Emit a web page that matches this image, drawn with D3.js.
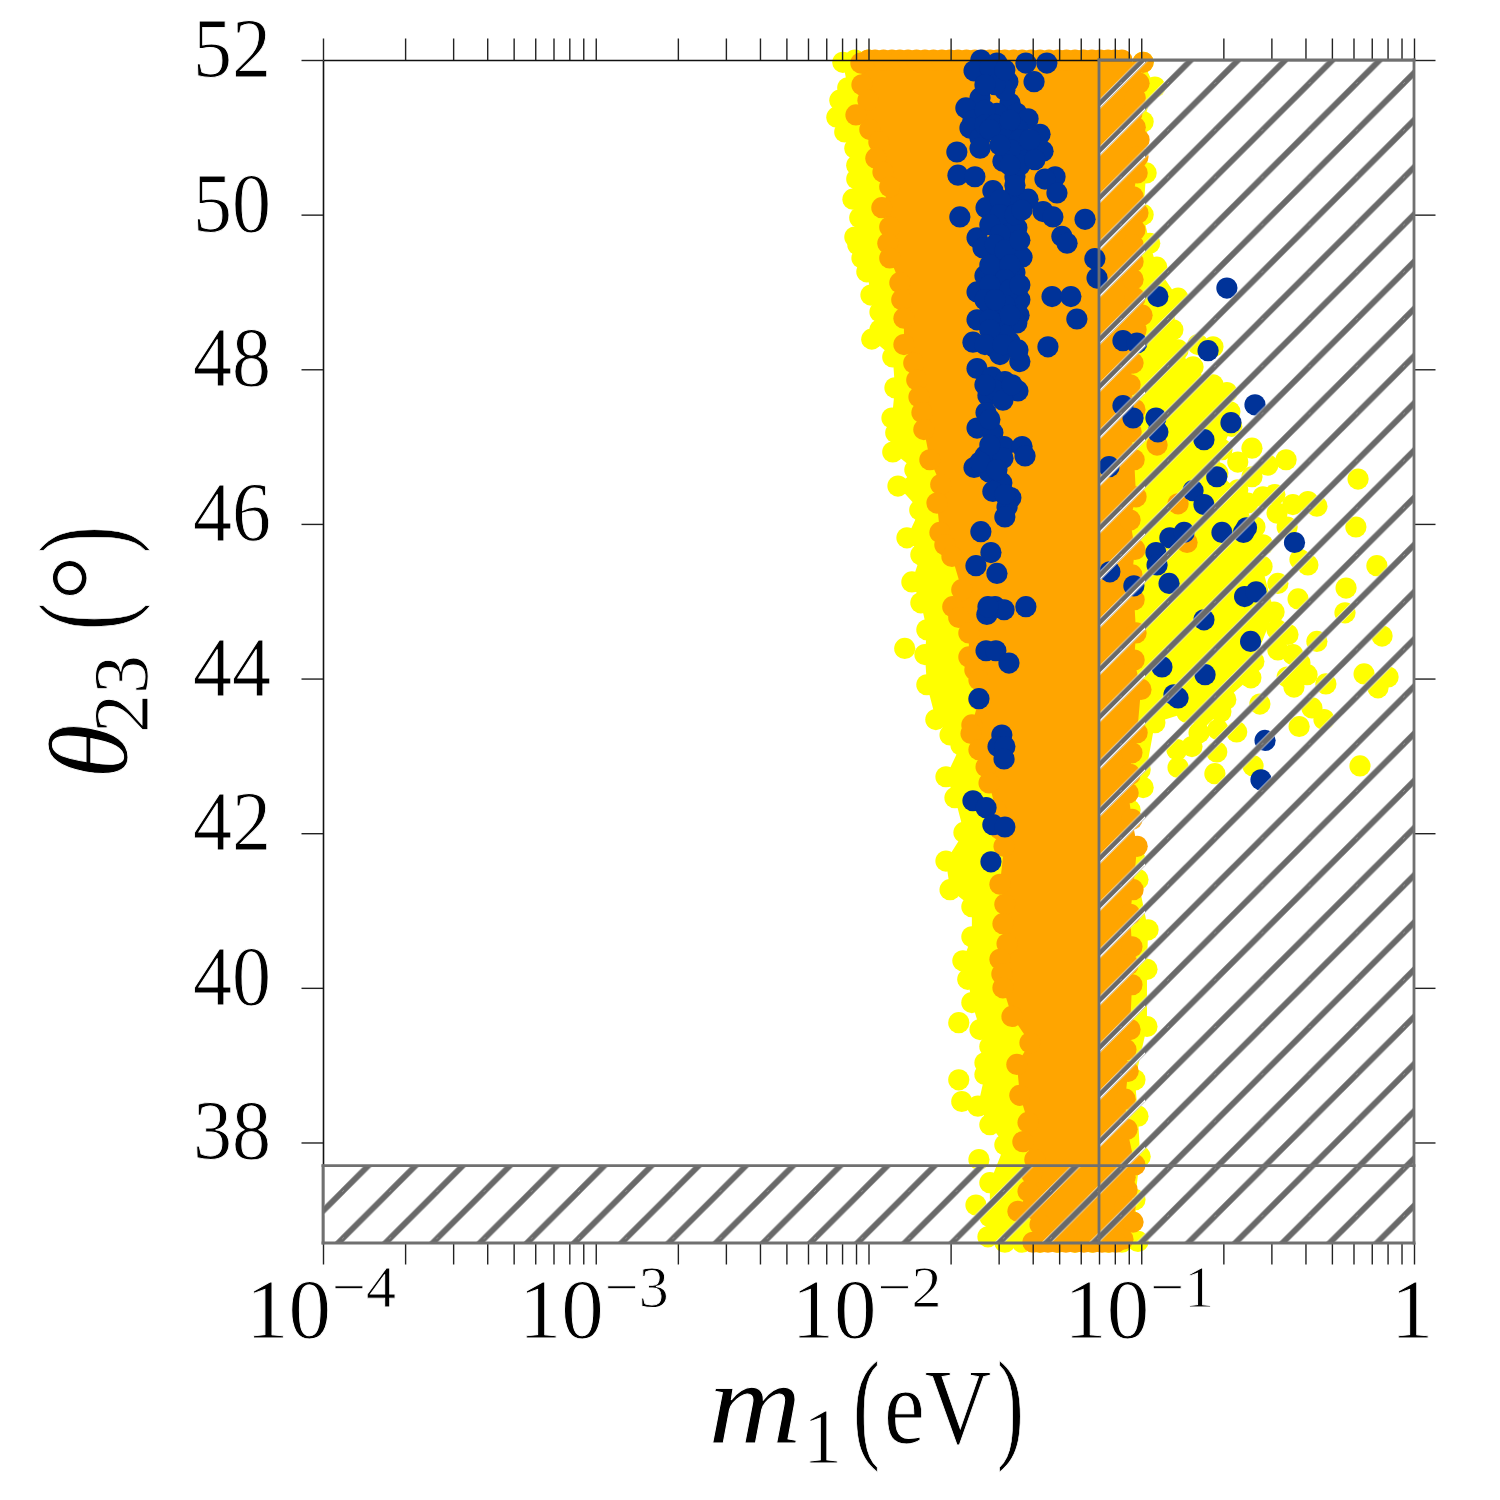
<!DOCTYPE html>
<html>
<head>
<meta charset="utf-8">
<script src="https://cdnjs.cloudflare.com/ajax/libs/d3/7.8.5/d3.min.js"></script>
<style>
  html, body { margin: 0; background: #fff; }
  text { font-family: "Liberation Serif", serif; fill: #000; stroke: #fff; stroke-width: 0.9; }
  .tick line { stroke: #222; stroke-width: 1.4; }
  .domain { stroke: #111; stroke-width: 1.6; }
</style>
</head>
<body>
<div id="chart"></div>
<script>
// all points are [log10(m1 / eV), theta23 in degrees]
const yellowLeft = [[-2.094,51.97],[-2.076,51.64],[-2.105,51.48],[-2.116,51.26],[-2.087,51.07],[-2.050,50.86],[-2.043,50.64],[-2.043,50.46],[-2.057,50.20],[-2.032,49.96],[-2.050,49.71],[-2.039,49.61],[-2.024,49.44],[-2.006,49.26],[-1.991,48.96],[-1.958,48.74],[-1.958,48.51],[-1.988,48.39],[-1.911,48.16],[-1.903,47.76],[-1.914,47.37],[-1.900,47.18],[-1.911,46.93],[-1.830,46.70],[-1.892,46.49],[-1.812,46.18],[-1.859,45.82],[-1.808,45.60],[-1.841,45.25],[-1.808,44.98],[-1.786,44.63],[-1.793,44.31],[-1.786,43.92],[-1.753,43.47],[-1.701,43.27],[-1.661,43.14],[-1.716,42.73],[-1.683,42.46],[-1.650,42.01],[-1.716,41.64],[-1.701,41.27],[-1.621,41.05],[-1.621,40.66],[-1.654,40.35],[-1.636,40.11],[-1.621,39.81],[-1.591,39.46],[-1.555,39.24],[-1.573,39.03],[-1.573,38.88],[-1.599,38.47],[-1.555,38.23],[-1.500,37.97],[-1.555,37.48],[-1.555,37.04],[-1.562,36.78]]
const yellowRight = [[-0.993,51.97],[-0.950,51.65],[-0.993,51.20],[-0.982,50.54],[-0.993,50.00],[-0.969,49.63],[-0.943,49.32],[-0.865,48.92],[-0.884,48.51],[-0.865,48.25],[-0.810,48.03],[-0.737,47.80],[-0.686,47.70],[-0.675,47.45],[-0.668,47.26],[-0.704,46.96],[-0.719,46.66],[-0.646,46.44],[-0.583,45.96],[-0.554,45.73],[-0.557,45.45],[-0.513,44.86],[-0.587,44.22],[-0.598,44.01],[-0.690,43.73],[-0.708,43.57],[-0.788,43.30],[-0.832,43.56],[-0.950,43.43],[-0.993,42.59],[-1.041,42.30],[-1.023,41.66],[-1.012,41.40],[-0.975,40.75],[-0.979,40.24],[-0.979,39.50],[-1.023,38.81],[-1.012,38.34],[-1.004,37.82],[-1.023,37.26],[-1.012,36.72]]
const yellowRim = [[-1.500,36.71],[-1.437,36.71],[-1.371,36.71],[-1.305,36.71],[-1.243,36.71],[-1.181,36.71],[-1.122,36.71],[-1.071,36.71],[-2.050,52],[-2.000,52]]
const yellowScatter = [[-1.867,44.39],[-1.669,39.55],[-1.669,38.81],[-1.658,38.53],[-1.595,37.78],[-1.606,37.19],[-0.205,46.58],[-0.213,45.96],[-0.136,45.46],[-0.249,45.17],[-0.253,44.85],[-0.117,44.55],[-0.356,44.48],[-0.183,44.06],[-0.095,44.02],[-0.132,43.88],[-0.323,43.93],[-0.374,43.62],[-0.330,43.47],[-0.421,43.38],[-0.198,42.87],[-0.565,43.67],[-0.590,42.87],[-0.730,42.77],[-0.865,42.85],[-0.469,46.83],[-0.594,46.98],[-0.646,46.80],[-0.536,46.76],[-0.594,46.61],[-0.356,46.23],[-0.389,46.29],[-0.444,46.25],[-0.510,46.38],[-0.554,46.35],[-0.609,46.27],[-0.502,46.14],[-0.465,45.96],[-0.389,45.47],[-0.418,45.54],[-0.499,45.23],[-0.425,45.03],[-0.502,44.63],[-0.462,44.57],[-0.499,44.37],[-0.444,44.31],[-0.418,44.20],[-0.392,44.05],[-0.465,44.02],[-0.440,43.89],[-0.646,44.24],[-0.693,44.28],[-0.650,43.31],[-0.723,43.05],[-0.719,43.34],[-0.814,43.12],[-0.869,43.08],[-1.004,42.82],[-0.792,48.32],[-0.737,48.29]]

const orangeLeft = [[-2.028,51.96],[-2.024,51.68],[-2.002,51.48],[-2.046,51.29],[-1.995,51.10],[-1.962,50.94],[-1.973,50.73],[-1.947,50.55],[-1.922,50.36],[-1.951,50.09],[-1.922,49.84],[-1.929,49.63],[-1.922,49.44],[-1.885,49.12],[-1.878,48.90],[-1.870,48.66],[-1.870,48.32],[-1.834,48.08],[-1.823,47.86],[-1.815,47.64],[-1.804,47.44],[-1.797,47.22],[-1.775,46.83],[-1.735,46.51],[-1.749,46.27],[-1.738,45.89],[-1.720,45.73],[-1.694,45.58],[-1.658,45.15],[-1.691,44.93],[-1.669,44.79],[-1.632,44.59],[-1.632,44.28],[-1.610,44.11],[-1.595,43.98],[-1.595,43.73],[-1.621,43.40],[-1.624,43.29],[-1.595,43.08],[-1.569,42.86],[-1.558,42.65],[-1.533,42.30],[-1.518,42.05],[-1.503,41.83],[-1.518,41.34],[-1.500,41.08],[-1.507,40.83],[-1.492,40.57],[-1.518,40.37],[-1.511,40.18],[-1.507,40.00],[-1.474,39.63],[-1.408,39.29],[-1.456,39.01],[-1.445,38.61],[-1.415,38.26],[-1.434,38.01],[-1.390,37.78],[-1.401,37.59],[-1.415,37.37],[-1.452,37.11],[-1.371,36.94],[-1.397,36.71]]
const orangeRight = [[-0.993,51.97],[-1.008,51.70],[-1.022,51.51],[-1.034,51.31],[-1.022,51.13],[-1.008,50.97],[-1.012,50.75],[-1.015,50.54],[-1.030,50.23],[-1.012,50.02],[-1.023,49.80],[-1.030,49.61],[-1.030,49.39],[-1.030,49.16],[-1.023,48.92],[-0.997,48.70],[-1.019,48.51],[-1.030,48.08],[-1.041,47.80],[-1.023,47.48],[-1.037,47.19],[-1.026,46.83],[-1.019,46.35],[-1.041,46.05],[-1.023,45.67],[-1.034,45.34],[-1.026,45.02],[-1.019,44.59],[-1.026,44.24],[-1.001,43.86],[-1.015,43.30],[-1.034,43.04],[-1.041,42.76],[-1.048,42.52],[-1.034,42.18],[-1.015,41.83],[-1.030,41.27],[-1.041,40.95],[-1.034,40.53],[-1.048,40.30],[-1.034,40.04],[-1.041,39.46],[-1.056,39.20],[-1.048,38.92],[-1.059,38.56],[-1.052,38.17],[-1.023,37.71],[-1.059,37.55],[-1.052,37.39],[-1.059,37.17],[-1.030,36.97],[-1.067,36.75]]
const orangeRim = [[-2.000,52],[-1.976,52],[-1.945,52],[-1.914,52],[-1.885,52],[-1.855,52],[-1.824,52],[-1.793,52],[-1.762,52],[-1.731,52],[-1.702,52],[-1.672,52],[-1.641,52],[-1.610,52],[-1.582,52],[-1.555,52],[-1.527,52],[-1.500,52],[-1.468,52],[-1.437,52],[-1.404,52],[-1.371,52],[-1.338,52],[-1.305,52],[-1.274,52],[-1.243,52],[-1.212,52],[-1.181,52],[-1.151,52],[-1.122,52],[-1.096,52],[-1.071,52],[-1.371,36.71],[-1.342,36.71],[-1.309,36.71],[-1.276,36.71],[-1.243,36.71],[-1.210,36.71],[-1.177,36.71],[-1.144,36.71],[-1.118,36.71],[-1.093,36.71]]
const orangeScatter = [[-0.942,47.02],[-0.865,46.26],[-0.832,45.76]]

const bluePoints = [[-1.588,52.00],[-1.423,51.96],[-1.346,51.96],[-1.393,51.72],[-1.613,51.86],[-1.529,51.96],[-1.518,51.83],[-1.489,51.72],[-1.591,51.51],[-1.481,51.44],[-1.643,51.38],[-1.617,51.22],[-1.628,51.12],[-1.529,51.31],[-1.456,51.31],[-1.415,51.24],[-1.452,51.10],[-1.371,51.04],[-1.591,50.99],[-1.518,51.10],[-1.591,50.86],[-1.676,50.81],[-1.360,50.82],[-1.507,50.69],[-1.408,50.73],[-1.456,50.84],[-1.672,50.51],[-1.610,50.49],[-1.316,50.49],[-1.353,50.46],[-1.463,50.49],[-1.309,50.28],[-1.544,50.31],[-1.463,50.28],[-1.415,50.20],[-1.569,50.09],[-1.470,50.10],[-1.360,50.04],[-1.324,49.97],[-1.665,49.97],[-1.206,49.94],[-1.507,49.93],[-1.456,49.83],[-1.291,49.72],[-1.272,49.63],[-1.602,49.70],[-1.481,49.63],[-1.580,49.57],[-1.437,49.45],[-1.518,49.51],[-1.170,49.43],[-1.162,49.18],[-1.573,49.21],[-1.463,49.25],[-1.518,49.29],[-1.602,49.00],[-1.327,48.94],[-1.258,48.94],[-1.445,48.90],[-1.518,48.99],[-1.555,48.81],[-0.939,48.94],[-1.448,48.70],[-1.602,48.64],[-1.236,48.65],[-1.529,48.73],[-1.507,48.54],[-1.456,48.60],[-1.617,48.35],[-1.342,48.29],[-1.536,48.28],[-1.481,48.35],[-1.555,48.38],[-1.445,48.10],[-1.067,48.37],[-1.016,48.34],[-1.602,48.01],[-1.547,47.90],[-1.500,47.84],[-1.562,47.66],[-1.452,47.72],[-1.518,47.71],[-1.067,47.53],[-1.030,47.37],[-0.946,47.37],[-1.569,47.44],[-1.602,47.24],[-1.544,47.18],[-1.503,47.00],[-1.437,47.00],[-1.426,46.88],[-1.573,46.88],[-1.507,46.85],[-1.613,46.73],[-1.558,46.67],[-1.511,46.53],[-1.544,46.42],[-1.478,46.34],[-1.492,46.22],[-1.500,46.09],[-1.588,45.90],[-1.551,45.63],[-1.606,45.46],[-1.529,45.36],[-1.536,44.93],[-1.503,44.89],[-1.566,44.83],[-1.562,44.93],[-1.423,44.93],[-1.569,44.36],[-1.533,44.36],[-1.485,44.20],[-1.595,43.74],[-1.511,43.27],[-1.525,43.12],[-1.500,43.12],[-1.503,42.96],[-1.617,42.42],[-1.569,42.33],[-1.544,42.11],[-1.500,42.08],[-1.551,41.63],[-0.686,49.05],[-0.755,48.24],[-1.118,46.74],[-0.939,47.19],[-0.770,47.09],[-0.671,47.31],[-0.583,47.54],[-0.723,46.61],[-0.810,46.43],[-0.770,46.25],[-0.895,45.82],[-0.843,45.89],[-0.946,45.63],[-0.942,45.47],[-0.704,45.89],[-0.614,45.95],[-0.625,45.89],[-0.438,45.76],[-1.115,45.38],[-1.027,45.20],[-0.898,45.23],[-0.621,45.06],[-0.579,45.12],[-0.770,44.76],[-0.599,44.48],[-0.924,44.15],[-0.766,44.05],[-0.880,43.79],[-0.865,43.75],[-0.546,43.20],[-0.561,42.69],
  [-1.555,51.90],[-1.500,51.61],[-1.536,51.68],[-1.573,51.68],[-1.500,51.87],[-1.573,51.35],[-1.573,51.16],[-1.536,51.16],[-1.481,51.22],[-1.500,50.97],[-1.555,51.10],[-1.445,50.97],[-1.481,50.84],[-1.408,50.97],[-1.518,50.90],[-1.445,50.64],[-1.481,50.64],[-1.390,50.71],[-1.463,50.38],[-1.518,50.19],[-1.518,50.00],[-1.555,49.87],[-1.518,49.74],[-1.536,49.61],[-1.463,50.00],[-1.437,50.06],[-1.500,49.54],[-1.445,49.67],[-1.555,49.35],[-1.481,49.35],[-1.500,49.16],[-1.555,49.09],[-1.481,49.03],[-1.500,48.83],[-1.573,48.90],[-1.445,49.09],[-1.481,48.70],[-1.555,48.64],[-1.536,48.90],[-1.500,48.44],[-1.555,48.51],[-1.518,48.19],[-1.573,48.32],[-1.507,48.32],[-1.452,48.25],[-1.536,47.73],[-1.507,47.60],[-1.573,47.80],[-1.474,47.80],[-1.555,47.35],[-1.555,47.02],[-1.591,46.80],[-1.529,46.70],[-1.500,46.38]]

const thetaTicks = [38, 40, 42, 44, 46, 48, 50, 52]
const decades = [-4, -3, -2, -1, 0]
const decadeLabels = ['\u22124', '\u22123', '\u22122', '\u22121', '']
const m1Limit = 0.07      // excluded above this mass
const thetaLimit = 37.7   // excluded below this angle

const width = 1500
const height = 1500
const pointRadius = 10.6
const tile = 47.2

const x = d3.scaleLog().domain([1e-4, 1]).range([323, 1414])
const y = d3.scaleLinear().domain([36.7, 52]).range([1243, 60])
const px = d => x(Math.pow(10, d[0]))
const py = d => y(d[1])

// one tick per mantissa, top and bottom
const m1Ticks = []
decades.forEach(k => {
  const mantissas = k === 0 ? [1] : d3.range(1, 10)
  mantissas.forEach(m => m1Ticks.push(m * Math.pow(10, k)))
})

const svg = d3.select('#chart').append('svg').attr('width', width).attr('height', height)
const defs = svg.append('defs')

function addHatch(id, ox, oy) {
  const p = defs.append('pattern')
    .attr('id', id)
    .attr('patternUnits', 'userSpaceOnUse')
    .attr('x', ox).attr('y', oy)
    .attr('width', tile).attr('height', tile)
  const segs = [[-6, tile + 6, tile + 6, -6], [-6, 6, 6, -6], [tile - 6, tile + 6, tile + 6, tile - 6]]
  const draw = (color, w) => segs.forEach(s => {
    p.append('line').attr('x1', s[0]).attr('y1', s[1]).attr('x2', s[2]).attr('y2', s[3])
      .attr('stroke', color).attr('stroke-width', w)
  })
  draw('#fff', 7)
  draw('#696969', 5.8)
  // seam of the tile shows as a small pale notch
  ;[[0, tile], [tile, 0]].forEach(c => {
    p.append('line')
      .attr('x1', c[0] - 4).attr('y1', c[1] - 4).attr('x2', c[0] + 4).attr('y2', c[1] + 4)
      .attr('stroke', '#ddd').attr('stroke-width', 1.2)
  })
}
addHatch('hatchRight', x(m1Limit) + 69, 83)
addHatch('hatchBottom', 343, 1191)

function blob(left, right, rim, scatter, color) {
  const g = svg.append('g')
  const line = d3.line().x(px).y(py)
  g.append('path')
    .attr('d', line(left.concat(right.slice().reverse())) + 'Z')
    .attr('fill', color)
  g.selectAll('circle')
    .data(left.concat(right, rim, scatter))
    .join('circle')
    .attr('cx', px)
    .attr('cy', py)
    .attr('r', pointRadius)
    .attr('fill', color)
}
blob(yellowLeft, yellowRight, yellowRim, yellowScatter, '#ffff00')
blob(orangeLeft, orangeRight, orangeRim, orangeScatter, '#ffa500')

svg.append('g').selectAll('circle')
  .data(bluePoints)
  .join('circle')
  .attr('cx', px)
  .attr('cy', py)
  .attr('r', pointRadius)
  .attr('fill', '#003399')

// axes, ticks outward on all four sides
const tickLen = 21.5
svg.append('g').attr('transform', `translate(0,${y.range()[0]})`)
  .call(d3.axisBottom(x).tickValues(m1Ticks).tickSize(tickLen).tickFormat(''))
  .call(g => g.select('.domain').remove())
svg.append('g').attr('transform', `translate(0,${y.range()[1]})`)
  .call(d3.axisTop(x).tickValues(m1Ticks).tickSize(tickLen).tickSizeOuter(0).tickFormat(''))
svg.append('g').attr('transform', `translate(${x.range()[0]},0)`)
  .call(d3.axisLeft(y).tickValues(thetaTicks).tickSize(tickLen).tickSizeOuter(0).tickFormat(''))
svg.append('g').attr('transform', `translate(${x.range()[1]},0)`)
  .call(d3.axisRight(y).tickValues(thetaTicks).tickSize(tickLen).tickFormat(''))
  .call(g => g.select('.domain').remove())

// excluded regions
const shade = [
  { id: 'hatchBottom', x0: 1e-4, x1: m1Limit, t0: 36.7, t1: thetaLimit },
  { id: 'hatchRight', x0: m1Limit, x1: 1, t0: 36.7, t1: 52 },
]
svg.append('g').selectAll('rect')
  .data(shade)
  .join('rect')
  .attr('x', d => x(d.x0))
  .attr('y', d => y(d.t1))
  .attr('width', d => x(d.x1) - x(d.x0))
  .attr('height', d => y(d.t0) - y(d.t1))
  .attr('fill', d => `url(#${d.id})`)

// thin white companion of the hatch where it crosses the orange band
const clip = defs.append('clipPath').attr('id', 'bandClip')
clip.append('rect')
  .attr('x', x(m1Limit)).attr('y', y(52))
  .attr('width', 46).attr('height', y(thetaLimit) - y(52))
svg.append('g').attr('clip-path', 'url(#bandClip)')
  .selectAll('line')
  .data(d3.range(0, 25))
  .join('line')
  .attr('x1', x(m1Limit) - 10)
  .attr('x2', x(m1Limit) + 60)
  .attr('y1', i => y(52) + 48 + i * tile + 10)
  .attr('y2', i => y(52) + 48 + i * tile - 60)
  .attr('stroke', '#fff')
  .attr('stroke-width', 1.2)

const outline = [
  [1e-4, 1, 37.7, 37.7], [1e-4, 1, 36.7, 36.7],
  [m1Limit, m1Limit, 36.7, 52], [1, 1, 36.7, 52],
  [m1Limit, 1, 52, 52], [1e-4, 1e-4, 36.7, 37.7],
]
svg.append('g').selectAll('line')
  .data(outline)
  .join('line')
  .attr('x1', d => x(d[0])).attr('x2', d => x(d[1]))
  .attr('y1', d => y(d[2])).attr('y2', d => y(d[3]))
  .attr('stroke', '#707070')
  .attr('stroke-width', 2.8)
  .attr('stroke-linecap', 'square')

// tick labels
svg.append('g').selectAll('text')
  .data(thetaTicks)
  .join('text')
  .attr('x', 271)
  .attr('y', d => y(d) + 17)
  .attr('text-anchor', 'end')
  .attr('font-size', 85)
  .attr('textLength', 78)
  .attr('lengthAdjust', 'spacingAndGlyphs')
  .text(d => d)

decades.forEach((k, i) => {
  const t = svg.append('text')
    .attr('x', x(Math.pow(10, k)) - 2)
    .attr('y', 1338)
    .attr('text-anchor', 'middle')
    .attr('font-size', 85)
  t.append('tspan').text(k === 0 ? '1' : '10')
  if (decadeLabels[i]) {
    t.append('tspan')
      .attr('dy', -31)
      .attr('dx', 1)
      .attr('font-size', 60)
      .text(decadeLabels[i])
  }
})

// axis titles, glyphs squeezed sideways to sit like the original math font
const xTitle = svg.append('g')
const place = (txt, size, bx, by, sx, italic) => xTitle.append('text')
  .attr('transform', `translate(${bx},${by}) scale(${sx},1)`)
  .attr('font-size', size)
  .attr('font-style', italic ? 'italic' : 'normal')
  .text(txt)
place('m', 118, 708, 1443, 1.10, true)
xTitle.append('text').attr('x', 803).attr('y', 1462).attr('font-size', 78).text('1')
place('(', 122, 853, 1446, 0.66)
place('eV', 107, 884, 1443, 0.86)
place(')', 122, 997, 1446, 0.66)

const yTitle = svg.append('g')
const rot = (txt, size, bx, by, sx, italic) => yTitle.append('text')
  .attr('transform', `translate(${bx},${by}) rotate(-90) scale(${sx},1)`)
  .attr('font-size', size)
  .attr('font-style', italic ? 'italic' : 'normal')
  .text(txt)
rot('\u03b8', 112, 127, 779, 1, true)
rot('23', 78, 147, 733, 1)
rot('(', 122, 124, 630, 0.66)
rot('\u00b0', 115, 128, 601, 1)
rot(')', 122, 124, 553, 0.66)
</script>
</body>
</html>
